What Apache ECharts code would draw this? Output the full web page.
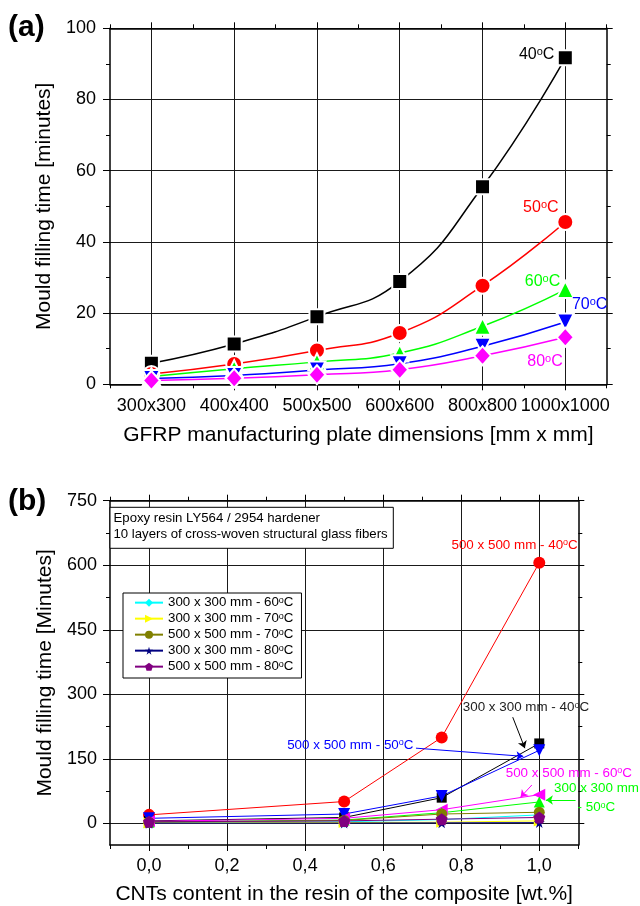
<!DOCTYPE html>
<html>
<head>
<meta charset="utf-8">
<script src="https://cdn.jsdelivr.net/npm/echarts@6/dist/echarts.min.js"></script>
<style>
  html, body { margin: 0; padding: 0; background: #fff; }
  #chart { width: 640px; height: 906px; }
</style>
</head>
<body>
<div id="chart"></div>
<script>
// ---- Panel (a): mould filling time vs. plate dimensions ----
const plateSizes = ['300x300', '400x400', '500x500', '600x600', '800x800', '1000x1000'];
const fill40 = [5.9, 11.3, 19.0, 28.9, 55.5, 91.7];
const fill50 = [2.9, 5.7, 9.5, 14.4, 27.7, 45.6];
const fill60 = [2.2, 4.4, 6.3, 8.8, 16.3, 26.6];
const fill70 = [1.6, 2.5, 4.0, 5.8, 10.7, 17.5];
const fill80 = [1.1, 1.7, 2.7, 4.1, 8.0, 13.2];
const plateMinorTicks = [-0.5, 0.5, 1.5, 2.5, 3.5, 4.5, 5.5];

// ---- Panel (b): mould filling time vs. CNT content ----
const cntContent = [0, 0.5, 0.75, 1.0];
const s500_40 = [20, 51, 200, 606];
const s300_40 = [6, 14, 60, 186];
const s500_50 = [12, 22, 64, 170];
const s500_60 = [5, 12, 32, 67];
const s300_50 = [3, 8, 25, 50];
const s300_60 = [2, 4, 9, 20];
const s300_70 = [1, 2, 3, 6];
const s500_70 = [3, 7, 22, 26];
const s300_80 = [0.5, 1, 1.5, 2];
const s500_80 = [4, 6, 10, 14];
const cntTicks = [0, 0.2, 0.4, 0.6, 0.8, 1.0];
const cntMinorTicks = [-0.1, 0.1, 0.3, 0.5, 0.7, 0.9, 1.1];
const timeTicksB = [0, 150, 300, 450, 600, 750];
const timeMinorTicksB = [75, 225, 375, 525, 675];

const FONT = "'Liberation Sans', Arial, sans-serif";
const AXIS_COLOR = '#000';
const GRID_COLOR = '#1a1a1a';

// Text with the degree sign drawn as a raised small "o"
function sup(text) {
  const i = text.indexOf('°');
  if (i < 0) return '{n|' + text + '}';
  const a = text.slice(0, i), b = text.slice(i + 1);
  return '{n|' + a + '}{s|o}' + (b ? '{n|' + b + '}' : '');
}
function richSup(size) {
  return {
    n: { fontSize: size, lineHeight: size, verticalAlign: 'bottom', fontFamily: FONT },
    s: { fontSize: Math.round(size * 0.7), lineHeight: Math.round(size * 0.7), verticalAlign: 'top', padding: [0, 0, Math.round(size * 0.55), 0], fontFamily: FONT }
  };
}

const STAR = 'path://M50,0 L61,35 L98,35 L68,57 L79,91 L50,70 L21,91 L32,57 L2,35 L39,35 Z';
const PENTAGON = 'path://M50,0 L100,38 L81,100 L19,100 L0,38 Z';

// axis builders
function majorX(grid, min, max, ticks, position, withLabels, fmt, name, nameGap, margin) {
  return {
    type: 'value', gridIndex: grid, min, max, position,
    axisLine: { show: true, onZero: false, lineStyle: { color: AXIS_COLOR, width: 1.5 } },
    axisTick: { show: true, customValues: ticks, length: 6, lineStyle: { color: AXIS_COLOR, width: 1 } },
    axisLabel: withLabels ? { show: true, customValues: ticks, formatter: fmt, fontSize: 18, color: '#000', fontFamily: FONT, margin: margin } : { show: false },
    splitLine: withLabels ? { show: true, lineStyle: { color: GRID_COLOR, width: 1 } } : { show: false },
    name: withLabels ? name : '', nameLocation: 'middle', nameGap: nameGap,
    nameTextStyle: { fontSize: 21, color: '#000', fontFamily: FONT }
  };
}
function minorX(grid, min, max, ticks, position) {
  return {
    type: 'value', gridIndex: grid, min, max, position,
    axisLine: { show: false, onZero: false },
    axisTick: { show: true, customValues: ticks, length: 4, lineStyle: { color: AXIS_COLOR, width: 1 } },
    axisLabel: { show: false, customValues: ticks },
    splitLine: { show: false }
  };
}

const option = {
  animation: false,
  backgroundColor: '#fff',
  textStyle: { fontFamily: FONT },
  grid: [
    { left: 110, top: 28.3, right: 33.3, bottom: 521.7, containLabel: false },
    { left: 110, top: 500.7, right: 61.7, bottom: 61, containLabel: false }
  ],
  xAxis: [
    majorX(0, -0.5, 5.5, [0, 1, 2, 3, 4, 5], 'bottom', true, v => plateSizes[Math.round(v)], 'GFRP manufacturing plate dimensions [mm x mm]', 40, 13),
    minorX(0, -0.5, 5.5, plateMinorTicks, 'bottom'),
    majorX(0, -0.5, 5.5, [0, 1, 2, 3, 4, 5], 'top', false),
    minorX(0, -0.5, 5.5, plateMinorTicks, 'top'),
    majorX(1, -0.1, 1.1, cntTicks, 'bottom', true, v => v.toFixed(1).replace('.', ','), 'CNTs content in the resin of the composite [wt.%]', 39, 12),
    minorX(1, -0.1, 1.1, cntMinorTicks, 'bottom'),
    majorX(1, -0.1, 1.1, cntTicks, 'top', false),
    minorX(1, -0.1, 1.1, cntMinorTicks, 'top')
  ],
  yAxis: [
    {
      type: 'value', gridIndex: 0, min: 0, max: 100, interval: 20, position: 'left',
      axisLine: { show: true, onZero: false, lineStyle: { color: AXIS_COLOR, width: 1.5 } },
      axisTick: { show: true, length: 7, lineStyle: { color: AXIS_COLOR } },
      minorTick: { show: true, splitNumber: 2, length: 4, lineStyle: { color: AXIS_COLOR } },
      axisLabel: { fontSize: 18, color: '#000', fontFamily: FONT, margin: 14 },
      splitLine: { show: true, lineStyle: { color: GRID_COLOR, width: 1 } },
      name: 'Mould filling time [minutes]', nameLocation: 'middle', nameGap: 48,
      nameTextStyle: { fontSize: 21, color: '#000', fontFamily: FONT }
    },
    {
      type: 'value', gridIndex: 0, min: 0, max: 100, interval: 20, position: 'right',
      axisLine: { show: true, onZero: false, lineStyle: { color: AXIS_COLOR, width: 1.5 } },
      axisTick: { show: true, length: 6, lineStyle: { color: AXIS_COLOR } },
      minorTick: { show: true, splitNumber: 2, length: 4, lineStyle: { color: AXIS_COLOR } },
      axisLabel: { show: false }, splitLine: { show: false }
    },
    {
      type: 'value', gridIndex: 1, min: -50, max: 750, position: 'left',
      axisLine: { show: true, onZero: false, lineStyle: { color: AXIS_COLOR, width: 1.5 } },
      axisTick: { show: true, customValues: timeTicksB, length: 7, lineStyle: { color: AXIS_COLOR } },
      axisLabel: { customValues: timeTicksB, fontSize: 18, color: '#000', fontFamily: FONT, margin: 13 },
      splitLine: { show: true, lineStyle: { color: GRID_COLOR, width: 1 } },
      name: 'Mould filling time [Minutes]', nameLocation: 'middle', nameGap: 52,
      nameTextStyle: { fontSize: 21, color: '#000', fontFamily: FONT }
    },
    {
      type: 'value', gridIndex: 1, min: -50, max: 750, position: 'left',
      axisLine: { show: false, onZero: false },
      axisTick: { show: true, customValues: timeMinorTicksB, length: 4, lineStyle: { color: AXIS_COLOR } },
      axisLabel: { show: false, customValues: timeMinorTicksB }, splitLine: { show: false }
    },
    {
      type: 'value', gridIndex: 1, min: -50, max: 750, position: 'right',
      axisLine: { show: true, onZero: false, lineStyle: { color: AXIS_COLOR, width: 1.5 } },
      axisTick: { show: true, customValues: timeTicksB, length: 6, lineStyle: { color: AXIS_COLOR } },
      axisLabel: { show: false, customValues: timeTicksB }, splitLine: { show: false }
    },
    {
      type: 'value', gridIndex: 1, min: -50, max: 750, position: 'right',
      axisLine: { show: false, onZero: false },
      axisTick: { show: true, customValues: timeMinorTicksB, length: 4, lineStyle: { color: AXIS_COLOR } },
      axisLabel: { show: false, customValues: timeMinorTicksB }, splitLine: { show: false }
    }
  ],
  legend: {
    data: ['300 x 300 mm - 60°C', '300 x 300 mm - 70°C', '500 x 500 mm - 70°C', '300 x 300 mm - 80°C', '500 x 500 mm - 80°C'],
    left: 123, top: 593, orient: 'vertical',
    itemWidth: 28, itemHeight: 10, itemGap: 0,
    padding: [3, 8, 2, 11],
    borderColor: '#000', borderWidth: 1, backgroundColor: '#fff',
    formatter: name => sup(name),
    textStyle: { fontSize: 13.3, color: '#000', fontFamily: FONT, rich: richSup(13.3) }
  },
  graphic: [
    { type: 'text', left: 8, top: 13, z: 100, style: { text: '(a)', font: "bold 30px 'Liberation Sans', Arial, sans-serif", fill: '#000' } },
    { type: 'text', left: 8, top: 487, z: 100, style: { text: '(b)', font: "bold 30px 'Liberation Sans', Arial, sans-serif", fill: '#000' } },
    { type: 'rect', z: 100, shape: { x: 110, y: 507.3, width: 283.3, height: 41 }, style: { fill: '#fff', stroke: '#000', lineWidth: 1 } },
    { type: 'text', z: 101, x: 113.5, y: 511, style: { text: 'Epoxy resin LY564 / 2954 hardener\n10 layers of cross-woven structural glass fibers', font: "13.2px 'Liberation Sans', Arial, sans-serif", fill: '#000', lineHeight: 15.5 } }
  ],
  series: []
};

// ---- panel (a) series ----
function plateSeries(name, values, color, symbol, size, rotate, labelCoord) {
  return {
    name, type: 'line', xAxisIndex: 0, yAxisIndex: 0, smooth: true, clip: false,
    data: values.map((v, i) => [i, v]),
    symbol, symbolSize: size, symbolRotate: rotate || 0, showSymbol: true,
    lineStyle: { color, width: 1.5 },
    itemStyle: { color, borderColor: '#fff', borderWidth: 2 },
    z: 3,
    markPoint: {
      silent: true, animation: false, symbol: 'circle', symbolSize: 0,
      data: [{ coord: labelCoord, value: name }],
      label: {
        show: true, position: [0, 0], align: 'left', verticalAlign: 'middle',
        formatter: sup(name), color, fontSize: 16, fontFamily: FONT, rich: richSup(16)
      }
    }
  };
}
option.series.push(
  plateSeries('40°C', fill40, '#000000', 'rect', 15, 0, [4.44, 92.6]),
  plateSeries('50°C', fill50, '#ff0000', 'circle', 16, 0, [4.49, 49.6]),
  plateSeries('60°C', fill60, '#00ff00', 'triangle', 17, 0, [4.51, 28.8]),
  plateSeries('70°C', fill70, '#0000ff', 'triangle', 17, 180, [5.08, 22.3]),
  plateSeries('80°C', fill80, '#ff00ff', 'diamond', [17, 19], 0, [4.54, 6.3])
);

// ---- panel (b) series ----
function cntSeries(name, values, color, symbol, size, rotate, extra) {
  return Object.assign({
    name, type: 'line', xAxisIndex: 4, yAxisIndex: 2, clip: false,
    data: cntContent.map((x, i) => [x, values[i]]),
    symbol, symbolSize: size, symbolRotate: rotate || 0,
    lineStyle: { color, width: 1 },
    itemStyle: { color },
    z: 3
  }, extra || {});
}
function note(coord, text, color) {
  return {
    coord, value: 0,
    label: { show: true, position: [0, 0], align: 'left', verticalAlign: 'middle', formatter: sup(text), color, fontSize: 13.4, fontFamily: FONT, rich: richSup(13.4) }
  };
}
function noteLayer(notes, arrows, color) {
  const out = {
    markPoint: { silent: true, animation: false, symbol: 'circle', symbolSize: 0, data: notes }
  };
  if (arrows.length) {
    out.markLine = {
      silent: true, animation: false, symbol: ['none', 'arrow'], symbolSize: 7,
      lineStyle: { color, width: 1, type: 'solid' }, label: { show: false },
      data: arrows.map(a => [{ coord: a[0] }, { coord: a[1] }])
    };
  }
  return out;
}

option.series.push(
  cntSeries('500 x 500 mm - 40°C', s500_40, '#ff0000', 'circle', 12, 0,
    noteLayer([note([0.775, 647], '500 x 500 mm - 40°C', '#ff0000')], [], '#ff0000')),
  cntSeries('300 x 300 mm - 40°C', s300_40, '#000000', 'rect', 10, 0,
    noteLayer([note([0.804, 270], '300 x 300 mm - 40°C', '#222222')], [[[0.932, 247], [0.963, 175]]], '#000000')),
  cntSeries('500 x 500 mm - 50°C', s500_50, '#0000ff', 'triangle', 12, 180,
    noteLayer([note([0.354, 182.6], '500 x 500 mm - 50°C', '#0000ff')], [[[0.684, 175], [0.959, 156]]], '#0000ff')),
  cntSeries('500 x 500 mm - 60°C', s500_60, '#ff00ff', 'triangle', 12, 90,
    noteLayer([note([0.914, 117.4], '500 x 500 mm - 60°C', '#ff00ff')], [[[0.981, 89.4], [0.952, 61]]], '#ff00ff')),
  cntSeries('300 x 300 mm - 50°C', s300_50, '#00ff00', 'triangle', 11, 0,
    noteLayer([note([1.038, 82.4], '300 x 300 mm', '#00ff00'), note([1.098, 37.3], '- 50°C', '#00ff00')], [[[1.093, 54.5], [1.017, 54.5]]], '#00ff00')),
  cntSeries('300 x 300 mm - 60°C', s300_60, '#00ffff', 'diamond', [10, 12], 0),
  cntSeries('300 x 300 mm - 70°C', s300_70, '#ffff00', 'triangle', 11, -90),
  cntSeries('500 x 500 mm - 70°C', s500_70, '#808000', 'circle', 11, 0),
  cntSeries('300 x 300 mm - 80°C', s300_80, '#000080', STAR, 11, 0),
  cntSeries('500 x 500 mm - 80°C', s500_80, '#800080', PENTAGON, 12, 0)
);

const chart = echarts.init(document.getElementById('chart'), null, { renderer: 'canvas' });
chart.setOption(option);
</script>
</body>
</html>
